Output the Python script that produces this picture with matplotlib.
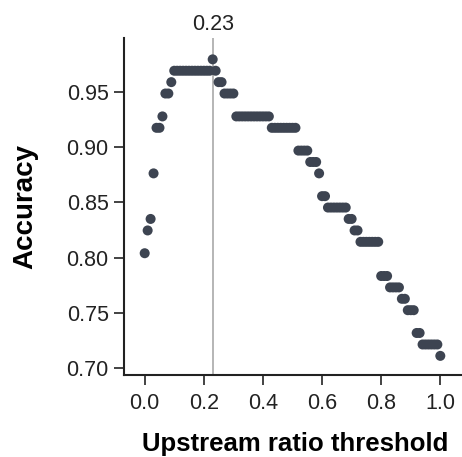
import matplotlib
matplotlib.use("Agg")
import matplotlib.pyplot as plt

thresholds = [0.00, 0.01, 0.02, 0.03, 0.04, 0.05, 0.06, 0.07, 0.08, 0.09,
              0.10, 0.11, 0.12, 0.13, 0.14, 0.15, 0.16, 0.17, 0.18, 0.19,
              0.20, 0.21, 0.22, 0.23, 0.24, 0.25, 0.26, 0.27, 0.28, 0.29,
              0.30, 0.31, 0.32, 0.33, 0.34, 0.35, 0.36, 0.37, 0.38, 0.39,
              0.40, 0.41, 0.42, 0.43, 0.44, 0.45, 0.46, 0.47, 0.48, 0.49,
              0.50, 0.51, 0.52, 0.53, 0.54, 0.55, 0.56, 0.57, 0.58, 0.59,
              0.60, 0.61, 0.62, 0.63, 0.64, 0.65, 0.66, 0.67, 0.68, 0.69,
              0.70, 0.71, 0.72, 0.73, 0.74, 0.75, 0.76, 0.77, 0.78, 0.79,
              0.80, 0.81, 0.82, 0.83, 0.84, 0.85, 0.86, 0.87, 0.88, 0.89,
              0.90, 0.91, 0.92, 0.93, 0.94, 0.95, 0.96, 0.97, 0.98, 0.99,
              1.00]

accuracy = [0.8041, 0.8247, 0.8351, 0.8763, 0.9175, 0.9175, 0.9278, 0.9485, 0.9485, 0.9588,
            0.9691, 0.9691, 0.9691, 0.9691, 0.9691, 0.9691, 0.9691, 0.9691, 0.9691, 0.9691,
            0.9691, 0.9691, 0.9691, 0.9794, 0.9691, 0.9588, 0.9588, 0.9485, 0.9485, 0.9485,
            0.9485, 0.9278, 0.9278, 0.9278, 0.9278, 0.9278, 0.9278, 0.9278, 0.9278, 0.9278,
            0.9278, 0.9278, 0.9278, 0.9175, 0.9175, 0.9175, 0.9175, 0.9175, 0.9175, 0.9175,
            0.9175, 0.9175, 0.8969, 0.8969, 0.8969, 0.8969, 0.8866, 0.8866, 0.8866, 0.8763,
            0.8557, 0.8557, 0.8454, 0.8454, 0.8454, 0.8454, 0.8454, 0.8454, 0.8454, 0.8351,
            0.8351, 0.8247, 0.8247, 0.8144, 0.8144, 0.8144, 0.8144, 0.8144, 0.8144, 0.8144,
            0.7835, 0.7835, 0.7835, 0.7732, 0.7732, 0.7732, 0.7732, 0.7629, 0.7629, 0.7526,
            0.7526, 0.7526, 0.7320, 0.7320, 0.7216, 0.7216, 0.7216, 0.7216, 0.7216, 0.7216,
            0.7113]

best_threshold = 0.23
best_label = "0.23"
x_ticks = [0.0, 0.2, 0.4, 0.6, 0.8, 1.0]
y_ticks = [0.70, 0.75, 0.80, 0.85, 0.90, 0.95]

plt.rcParams['font.family'] = ['Liberation Sans', 'DejaVu Sans']

fig = plt.figure(figsize=(4.62, 4.57), dpi=100)
ax = fig.add_axes([124 / 462, 1 - 375 / 457, (461 - 124) / 462, (375 - 38) / 457])

ax.axvline(best_threshold, color='#b0b0b0', lw=1.3, zorder=1)
ax.scatter(thresholds, accuracy, s=52, color='#3d4451', edgecolors='none', zorder=3)

ax.annotate(best_label, xy=(best_threshold, 1.0), xycoords=('data', 'axes fraction'),
            xytext=(0, 2), textcoords='offset points', ha='center', va='bottom',
            fontsize=15.5, color='#222222')

ax.set_xlim(-0.07, 1.07)
ax.set_ylim(0.694, 0.9987)
ax.set_xticks(x_ticks)
ax.set_xticklabels([f"{v:.1f}" for v in x_ticks])
ax.set_yticks(y_ticks)
ax.set_yticklabels([f"{v:.2f}" for v in y_ticks])

for side in ['top', 'right']:
    ax.spines[side].set_visible(False)
for side in ['left', 'bottom']:
    ax.spines[side].set_linewidth(1.5)
    ax.spines[side].set_color('#222222')

ax.tick_params(axis='both', direction='out', length=7, width=1.2, color='#222222',
               labelsize=15.5, labelcolor='#222222')
ax.tick_params(axis='x', pad=6)
ax.tick_params(axis='y', pad=4)

ax.set_xlabel('Upstream ratio threshold', fontsize=18.5, fontweight='bold', va='baseline')
ax.xaxis.set_label_coords(295.5 / 462, 1 - 450.5 / 457, transform=fig.transFigure)
ax.set_ylabel('Accuracy', fontsize=20, fontweight='bold', labelpad=20)

fig.savefig('out.png', dpi=100)
